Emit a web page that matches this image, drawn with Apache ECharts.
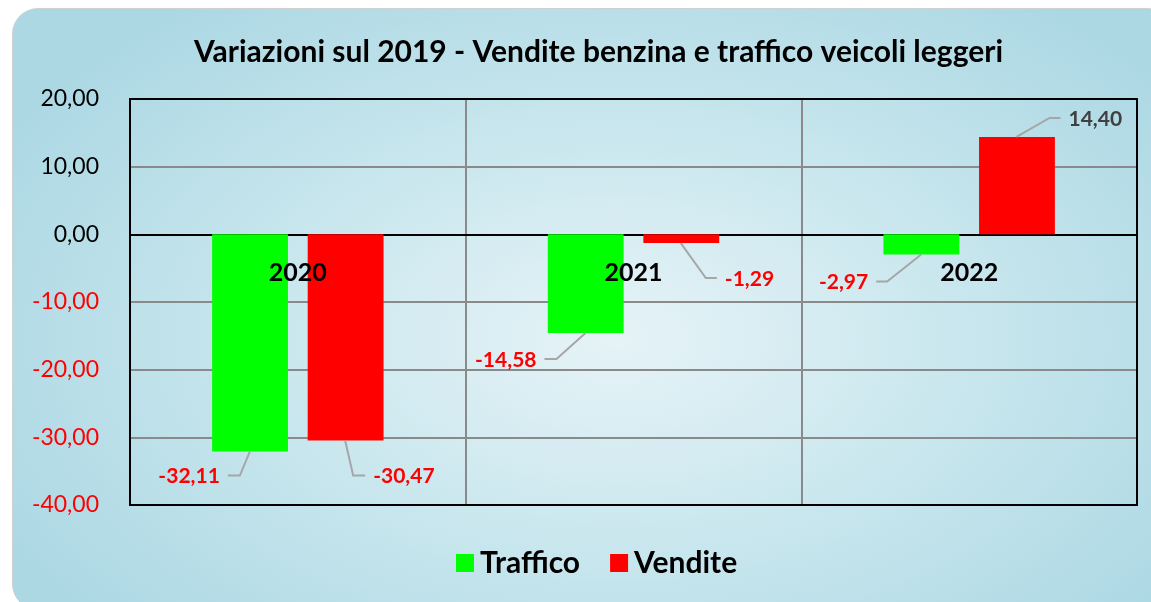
<!DOCTYPE html>
<html>
<head>
<meta charset="utf-8">
<script src="https://cdn.jsdelivr.net/npm/echarts@6/dist/echarts.min.js"></script>
<style>
  html, body { margin:0; padding:0; background:#ffffff; width:1151px; height:602px; overflow:hidden; }
  #bg { position:absolute; left:12px; top:8px; width:1160px; height:600px; border-radius:26px;
        border:1px solid #d0d0d0;
        background: radial-gradient(ellipse 60% 70% at 52% 55%, #e6f3f7 0%, #cce8ef 45%, #acd8e4 100%); }
  #chart { position:absolute; left:0; top:0; width:1151px; height:602px; }
</style>
</head>
<body>
<div id="bg"></div>
<div id="chart"></div>
<script>
// ---- data ----
const categories = ['2020', '2021', '2022'];
const traffico = [-32.11, -14.58, -2.97];
const vendite = [-30.47, -1.29, 14.40];
const yTicks = { min: -40, max: 20, interval: 10 };

// ---- label layout (leader line elbows, px) ----
const trafficoLabelLayout = [[-10, 24, -12], [-29, 26, -12], [-34, 27, -11]];
const venditeLabelLayout = [[8, 35, 12], [25, 35, 11], [33, -19, 11]];

const FONT = 'Lato, "Open Sans", "Noto Sans", sans-serif';
const fmt = v => v.toFixed(2).replace('.', ',');

function labelSeries(name, values, layout, sideFrac) {
  return {
    type: 'custom',
    name: name,
    coordinateSystem: 'cartesian2d',
    xAxisIndex: 0, yAxisIndex: 0,
    silent: true, clip: false, z: 20,
    data: values.map((v, i) => [i, v]),
    renderItem: function (params, api) {
      const i = api.value(0), v = api.value(1);
      const band = api.size([1, 0])[0];
      const c = api.coord([i, v]);
      const x0 = c[0] + sideFrac * band, y0 = c[1];
      const L = layout[i];
      const x1 = x0 + L[0], y1 = y0 + L[1];
      const x2 = x1 + L[2];
      const right = L[2] > 0;
      return {
        type: 'group',
        children: [
          { type: 'polyline', shape: { points: [[x0, y0], [x1, y1], [x2, y1]] },
            style: { stroke: '#a6a6a6', lineWidth: 2, fill: null } },
          { type: 'text', x: x2 + (right ? 8 : -8), y: y1 + 1,
            style: { text: fmt(v), fill: v < 0 ? '#ff0000' : '#404040',
                     font: 'bold 21px ' + FONT,
                     align: right ? 'left' : 'right', verticalAlign: 'middle' } }
        ]
      };
    }
  };
}

// category labels placed just below the zero line (as in the source chart)
const categoryLabelSeries = {
  type: 'custom',
  name: 'catLabels',
  coordinateSystem: 'cartesian2d',
  xAxisIndex: 0, yAxisIndex: 0,
  silent: true, clip: false, z: 25,
  data: categories.map((c, i) => [i, 0]),
  renderItem: function (params, api) {
    const i = api.value(0);
    const c = api.coord([i, 0]);
    return {
      type: 'text', x: c[0], y: c[1] + 39,
      style: { text: categories[i], fill: '#000', font: 'bold 25px ' + FONT,
               align: 'center', verticalAlign: 'middle' }
    };
  }
};

const chart = echarts.init(document.getElementById('chart'), null, { renderer: 'canvas' });
chart.setOption({
  backgroundColor: 'transparent',
  animation: false,
  title: {
    text: 'Variazioni sul 2019 - Vendite benzina e traffico veicoli leggeri',
    left: 189, top: 32,
    textStyle: { fontFamily: FONT, fontWeight: 'bold', fontSize: 30, color: '#000' }
  },
  legend: {
    data: ['Traffico', 'Vendite'],
    left: 451, top: 543,
    itemWidth: 18, itemHeight: 18, itemGap: 30,
    icon: 'rect',
    textStyle: { fontFamily: FONT, fontWeight: 'bold', fontSize: 30, color: '#000', padding: [0, 0, 0, 1] }
  },
  grid: {
    left: 130, right: 14, top: 99, bottom: 97, z: 3,
    show: true, borderColor: '#000', borderWidth: 2, backgroundColor: 'transparent'
  },
  xAxis: {
    type: 'category', data: categories, z: 0,
    axisLine: { show: true, onZero: true, lineStyle: { color: '#000', width: 2 } },
    axisTick: { show: false }, axisLabel: { show: false },
    splitLine: { show: true, interval: 0, lineStyle: { color: '#8a8a8a', width: 2 } }
  },
  yAxis: {
    type: 'value', min: yTicks.min, max: yTicks.max, interval: yTicks.interval,
    axisLine: { show: true, lineStyle: { color: '#000', width: 2 } }, axisTick: { show: false },
    splitLine: { show: true, lineStyle: { color: '#8a8a8a', width: 2 } },
    axisLabel: {
      margin: 31, fontFamily: FONT, fontSize: 23,
      formatter: v => fmt(v),
      color: v => (v < 0 ? '#ff0000' : '#000')
    }
  },
  series: [
    { type: 'bar', name: 'Traffico', data: traffico, barWidth: '22.6%', barGap: '26%',
      itemStyle: { color: '#00ff00' }, z: 2 },
    { type: 'bar', name: 'Vendite', data: vendite, barWidth: '22.6%', barGap: '26%',
      itemStyle: { color: '#ff0000' }, z: 2 },
    labelSeries('lblT', traffico, trafficoLabelLayout, -0.143),
    labelSeries('lblV', vendite, venditeLabelLayout, 0.141),
    categoryLabelSeries
  ]
});
</script>
</body>
</html>
